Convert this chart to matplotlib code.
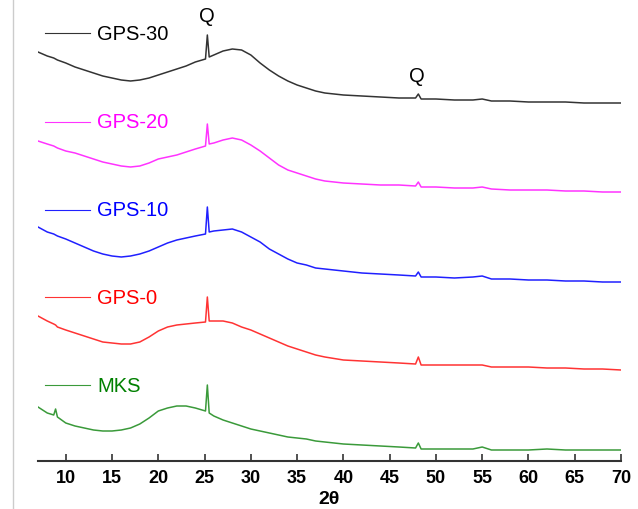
import matplotlib
matplotlib.use("Agg")
import matplotlib.pyplot as plt
from matplotlib.lines import Line2D

plt.rcParams["font.family"] = ["Liberation Sans", "DejaVu Sans"]

# 2theta sampling shared by all patterns (denser around the quartz reflections)
two_theta = [
    7, 8, 8.7, 8.9, 9.1, 10, 11, 12, 13, 14, 15, 16, 17, 18, 19, 20, 21, 22, 23, 24,
    25.1, 25.3, 25.5, 26, 27, 28, 29, 30, 31, 32, 33, 34, 35, 36, 37, 38,
    40, 42, 44, 46, 47.8, 48.1, 48.4, 50, 52, 54, 55, 56, 58, 60, 62, 64, 66, 68, 70,
]

# stacked intensities (a.u., offset already applied)
gps30 = [
    409, 405, 403, 402, 401, 398, 394, 391, 388, 385, 383, 381, 380, 381, 383, 386, 389, 392, 395, 399,
    402, 426, 404, 406, 410, 412, 411, 406, 398, 391, 385, 380, 376, 373, 370, 368,
    366, 365, 364, 363, 363, 367, 362, 362, 361, 361, 362, 360, 360, 359, 359, 359, 358, 358, 358,
]
gps20 = [
    320, 317, 315, 314, 313, 310, 308, 305, 302, 299, 297, 295, 294, 295, 298, 302, 304, 306, 309, 312,
    315, 337, 317, 318, 321, 323, 321, 316, 310, 303, 296, 291, 288, 285, 282, 280,
    278, 277, 276, 276, 275, 279, 274, 274, 273, 273, 274, 272, 271, 271, 271, 270, 270, 269, 269,
]
gps10 = [
    234, 229, 227, 226, 225, 222, 218, 214, 210, 207, 205, 204, 205, 207, 210, 214, 218, 221, 223, 225,
    227, 254, 229, 230, 231, 232, 229, 224, 219, 212, 207, 202, 198, 196, 193, 192,
    190, 188, 187, 186, 185, 189, 184, 184, 183, 184, 185, 182, 182, 181, 181, 180, 180, 179, 179,
]
gps0 = [
    145, 140, 137, 136, 134, 131, 128, 125, 122, 119, 118, 117, 117, 119, 124, 130, 134, 136, 137, 138,
    139, 164, 140, 140, 140, 138, 134, 131, 127, 123, 119, 115, 112, 109, 106, 104,
    101, 100, 99, 98, 97, 104, 96, 96, 96, 96, 96, 94, 94, 94, 93, 93, 92, 92, 91,
]
mks = [
    54, 48, 46, 52, 44, 38, 35, 33, 31, 30, 30, 31, 33, 37, 43, 50, 53, 55, 55, 53,
    50, 76, 48, 45, 41, 38, 35, 32, 30, 28, 26, 24, 23, 22, 20, 19,
    17, 16, 15, 14, 13, 18, 12, 12, 12, 12, 14, 11, 11, 11, 12, 11, 11, 11, 11,
]

names = ["GPS-30", "GPS-20", "GPS-10", "GPS-0", "MKS"]
series = [gps30, gps20, gps10, gps0, mks]
line_colors = ["#333333", "#ff33ff", "#2020ff", "#ff3333", "#3a9a3a"]
text_colors = ["#000000", "#ff00ff", "#0000ff", "#ff0000", "#008000"]
label_levels = [428, 339, 251, 164, 76]

fig = plt.figure(figsize=(6.38, 5.10), dpi=100)
ax = fig.add_axes([38 / 638, 48 / 510, 583 / 638, 462 / 510])

for name, y, lc, tc, lev in zip(names, series, line_colors, text_colors, label_levels):
    ax.plot(two_theta, y, color=lc, lw=1.1)
    ax.plot([7.76, 12.62], [lev, lev], color=lc, lw=0.8)
    ax.text(13.38, lev, name, color=tc, fontsize=14.5, va="center", ha="left")

# quartz reflections
ax.text(25.3, 445, "Q", fontsize=14.5, ha="center", va="center")
ax.text(47.9, 386, "Q", fontsize=14.5, ha="center", va="center")

ax.set_xlim(7, 70)
ax.set_ylim(0, 462)
ax.set_xticks(range(10, 71, 5))
ax.set_yticks([])
for side in ["left", "right", "top"]:
    ax.spines[side].set_visible(False)
ax.spines["bottom"].set_color("#333333")
ax.spines["bottom"].set_linewidth(1.5)
ax.tick_params(axis="x", direction="in", length=5, width=1.2, color="#333333", pad=6)
for lbl in ax.get_xticklabels():
    lbl.set_fontweight("bold")
    lbl.set_fontsize(13)
ax.set_xlabel("2θ", fontsize=14, fontweight="bold", labelpad=3)

fig.add_artist(Line2D([13 / 638, 13 / 638], [0, 1], color="#cccccc", lw=1))

fig.savefig("out.png", dpi=100)
